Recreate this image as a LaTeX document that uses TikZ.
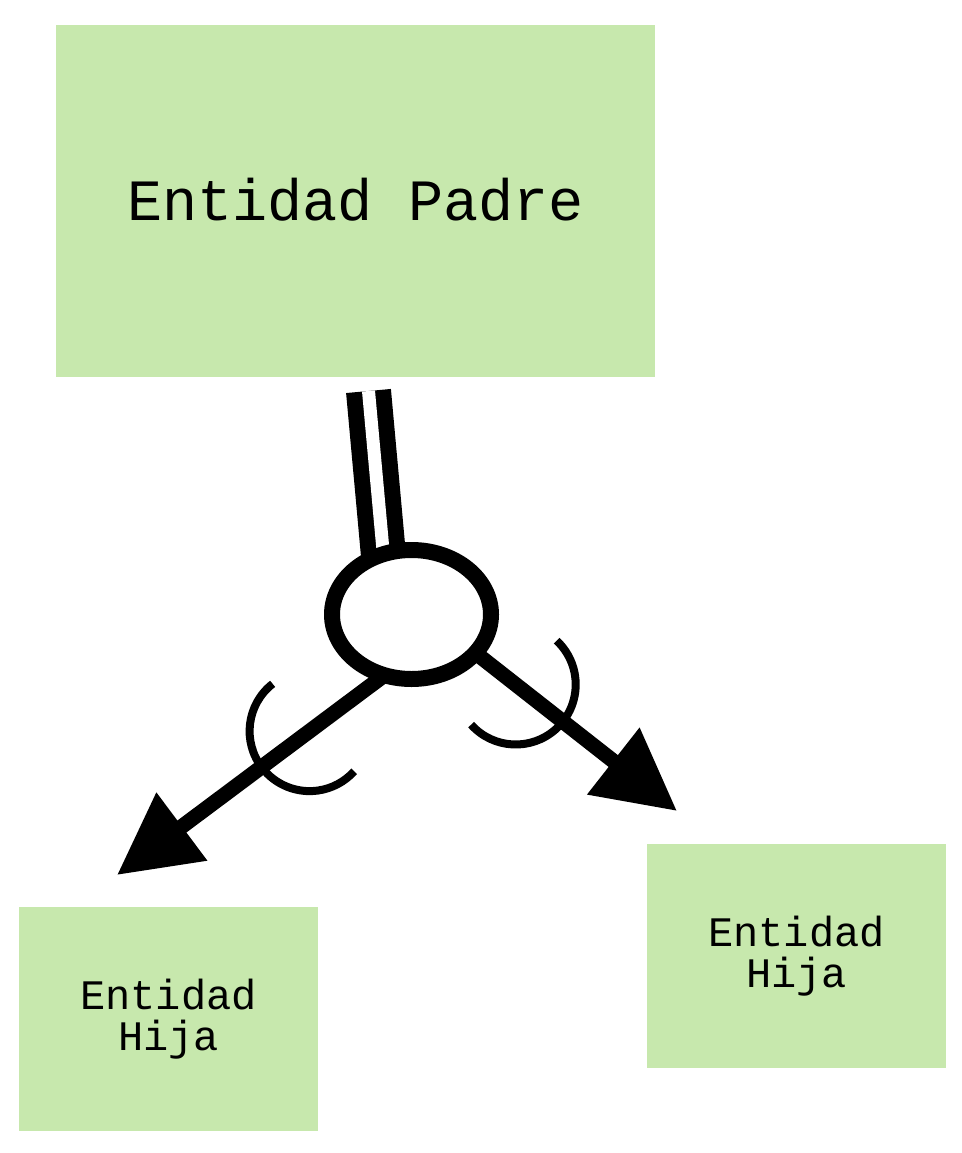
\documentclass[tikz,border=0pt]{standalone}
\usepackage{fontspec}
\usepackage{tikz}
\usetikzlibrary{shapes.geometric}
\usetikzlibrary{arrows.meta,calc,backgrounds}

\newfontfamily\entfont{Liberation Mono}
\definecolor{entgreen}{HTML}{C7E8AD}

\tikzset{
	entbox/.style={fill=entgreen, inner sep=0pt, outer sep=0pt, align=center},
	padrebox/.style={entbox, minimum width=599pt, minimum height=352pt, font=\entfont\fontsize{58.5}{60}\selectfont},
	hijabox/.style={entbox, minimum width=299pt, minimum height=224pt, font=\entfont\fontsize{42}{41}\selectfont},
	isa/.style={draw, ellipse, line width=16pt, fill=white, minimum width=159pt, minimum height=129pt, inner sep=0pt, outer sep=0pt},
	spec/.style={line width=15pt, -{Triangle[length=81pt,width=81pt]}},
	subarc/.style={line width=8pt},
}

\begin{document}
\begin{tikzpicture}[x=1pt, y=1pt]
	\useasboundingbox (0,0) rectangle (961,-1153);

	\node[padrebox] (padre) at (355.5,-201) {\raisebox{4pt}{Entidad Padre}};
	\node[hijabox] (hijaL) at (168.5,-1019) {Entidad\\Hija};
	\node[hijabox] (hijaR) at (796.5,-956) {Entidad\\Hija};

	\node[isa] (ell) at (411.5,-614.5) {};

	\coordinate (tipL) at (117,-875);
	\coordinate (tipR) at (677,-811);
	\coordinate (dtop) at ([xshift=13pt,yshift=-14pt]padre.south);

	\begin{scope}[on background layer]
		% total participation
		\draw[line width=16pt, double, double distance=13pt] (dtop) -- (ell.115);
		\draw[spec] (ell.246.5) -- (tipL);
		\draw[spec] (ell.-31.3) -- (tipR);
	\end{scope}

	% subset marks
	\coordinate (cL) at ($(ell.246.5)!0.28!(tipL)$);
	\coordinate (cR) at ($(ell.-31.3)!0.2!(tipR)$);
	\draw[subarc] (cL) ++(128:60) arc[start angle=128, end angle=318, radius=60];
	\draw[subarc] (cR) ++(222:60) arc[start angle=222, end angle=407, radius=60];

\end{tikzpicture}
\end{document}
